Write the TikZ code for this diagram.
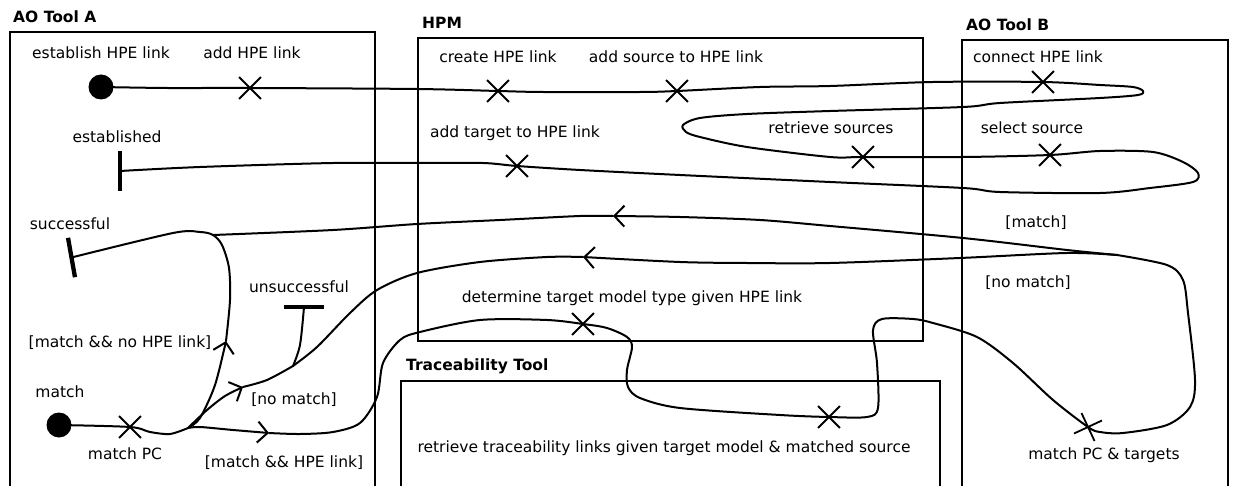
\documentclass[tikz,border=0pt]{standalone}
\usepackage{fontspec}
\setmainfont{DejaVu Sans}
\usetikzlibrary{shapes.misc,arrows.meta}
\begin{document}
\begin{tikzpicture}[x=1pt,y=-1pt,
  font=\fontsize{15.5}{18}\selectfont,
  boxline/.style={line width=2pt},
  ttl/.style={font=\fontsize{15.5}{18}\selectfont\bfseries, anchor=west, inner sep=0pt, text height=11.3pt, text depth=0pt},
  lbl/.style={inner sep=0pt, text height=11.3pt, text depth=0pt},
  resp/.style={draw, cross out, minimum size=20pt, inner sep=0pt, line width=1.8pt},
  startpt/.style={circle, fill=black, minimum size=25pt, inner sep=0pt},
  endbar/.style={rectangle, fill=black, inner sep=0pt, minimum width=4.3pt, minimum height=40pt},
  ucm/.style={line width=2pt, line join=round, line cap=round},
  arr/.style={-{Straight Barb[length=10pt,width=21pt,line width=2pt]}}
]
\useasboundingbox (0,0) rectangle (1233,486);
\clip (0,0) rectangle (1233,486);

% components
\draw[boxline] (10,487) -- (10,32) -- (375,32) -- (375,487);
\node[ttl] (tA) at (13,17) {AO Tool A};
\draw[boxline] (418,38) rectangle (923,341);
\node[ttl] (tH) at (422,23) {HPM};
\draw[boxline] (962,487) -- (962,40) -- (1228,40) -- (1228,487);
\node[ttl] (tB) at (966,25) {AO Tool B};
\draw[boxline] (401,487) -- (401,381) -- (940,381) -- (940,487);
\node[ttl] (tT) at (406,365) {Traceability Tool};

% start / end points
\node[startpt] (estS) at (101,87) {};
\node[startpt] (matchS) at (59,425) {};
\node[endbar] (estE) at (120,171) {};
\node[endbar, rotate=10] (succE) at (71.5,257.5) {};
\node[endbar, rotate=90] (unsuccE) at (304,307) {};

% responsibilities
\node[resp] (addX) at (250,88) {};
\node[resp] (createX) at (498,91) {};
\node[resp] (addSrcX) at (677,91) {};
\node[resp] (connX) at (1043,82) {};
\node[resp] (retrX) at (863,157) {};
\node[resp] (selX) at (1050,155) {};
\node[resp] (addTgtX) at (517,166) {};
\node[resp] (mpcX) at (130,427) {};
\node[resp] (detX) at (583,324) {};
\node[resp] (trX) at (829,417) {};
\node[resp, rotate=-20] (mtX) at (1088,427) {};

% junctions and arrow points
\coordinate (J1) at (188,428);
\coordinate (J2) at (213,235);
\coordinate (J3) at (293,366);
\coordinate (J4) at (1117,255);
\coordinate (A1) at (613,216);
\coordinate (A2) at (226,341);
\coordinate (A3) at (269,433);
\coordinate (A4) at (243,387);
\coordinate (A5) at (583,257);

% labels
\node[lbl] (l1) at (101,53) {establish HPE link};
\node[lbl] (l2) at (252,53) {add HPE link};
\node[lbl] (l3) at (117,137) {established};
\node[lbl] (l4) at (70,224) {successful};
\node[lbl] (l5) at (120,342) {[match \&\& no HPE link]};
\node[lbl] (l6) at (299,287) {unsuccessful};
\node[lbl] (l7) at (294,399) {[no match]};
\node[lbl] (l8) at (60,392) {match};
\node[lbl] (l9) at (125,454) {match PC};
\node[lbl] (l10) at (284,462) {[match \&\& HPE link]};
\node[lbl] (l11) at (498,57) {create HPE link};
\node[lbl] (l12) at (676,57) {add source to HPE link};
\node[lbl] (l13) at (515,132) {add target to HPE link};
\node[lbl] (l14) at (831,128) {retrieve sources};
\node[lbl] (l15) at (632,297) {determine target model type given HPE link};
\node[lbl] (l16) at (664,447) {retrieve traceability links given target model \& matched source};
\node[lbl] (l17) at (1038,57) {connect HPE link};
\node[lbl] (l18) at (1032,128) {select source};
\node[lbl] (l19) at (1036,222) {[match]};
\node[lbl] (l20) at (1028,282) {[no match]};
\node[lbl] (l21) at (1104,454) {match PC \& targets};

% establish path
\draw[ucm] plot[smooth, tension=0.5] coordinates {(estS.center) (167,88) (addX.center) (417,89) (createX.center) (543,92) (640,92) (addSrcX.center) (760,87) (830,86) (933,82) (connX.center) (1100,85) (1133,87) (1143,91) (1138,95) (1100,98) (1000,103) (963,107) (830,111) (747,114) (700,118) (683,125) (686,132) (700,137) (747,147) (830,157) (retrX.center) (963,157) (selX.center) (1100,151) (1153,152) (1183,162) (1198,173) (1193,182) (1150,188) (1100,193) (1000,192) (963,188) (830,182) (680,175) (580,170) (addTgtX.center) (483,163) (420,163) (333,163) (200,167) (estE.center)};

% match path
\draw[ucm] plot[smooth, tension=0.5] coordinates {(matchS.center) (mpcX.center) (150,432) (170,434) (J1)};
% [match && HPE link]
\draw[ucm, arr] plot[smooth, tension=0.5] coordinates {(J1) (200,427) (233,430) (A3)};
\draw[ucm] plot[smooth, tension=0.5] coordinates {(A3) (300,434) (333,432) (360,423) (377,397) (383,363) (400,340) (420,332) (480,320) (547,320) (detX.center) (607,328) (627,337) (632,347) (627,370) (628,387) (640,398) (680,408) (780,415) (trX.center) (867,417) (878,408) (877,363) (873,330) (882,319) (913,319) (933,323) (977,337) (1013,363) (1053,400) (mtX.center) (1100,432) (1123,433) (1167,425) (1190,407) (1195,380) (1188,313) (1183,280) (1167,265) (J4)};
% [match && no HPE link]
\draw[ucm, arr] plot[smooth, tension=0.5] coordinates {(J1) (200,418) (215,385) (A2)};
\draw[ucm] plot[smooth, tension=0.5] coordinates {(A2) (230,300) (229,268) (222,245) (J2) (200,232) (173,233) (succE.center)};
% [no match] from match PC
\draw[ucm, arr] plot[smooth, tension=0.5] coordinates {(J1) (207,410) (225,396) (A4)};
\draw[ucm] plot[smooth, tension=0.5] coordinates {(A4) (267,380) (J3)};
\draw[ucm] plot[smooth, tension=0.5] coordinates {(J3) (300,345) (unsuccE.center)};
% [match] from AO Tool B
\draw[ucm, arr] plot[smooth, tension=0.5] coordinates {(J4) (1067,250) (963,238) (830,226) (760,220) (680,217) (A1)};
\draw[ucm] plot[smooth, tension=0.5] coordinates {(A1) (580,216) (500,220) (417,224) (333,230) (J2)};
% [no match] from AO Tool B
\draw[ucm, arr] plot[smooth, tension=0.5] coordinates {(J4) (1067,253) (960,258) (830,263) (747,263) (680,262) (A5)};
\draw[ucm] plot[smooth, tension=0.5] coordinates {(A5) (547,257) (480,262) (417,273) (377,290) (350,313) (317,347) (J3)};
\end{tikzpicture}
\end{document}
